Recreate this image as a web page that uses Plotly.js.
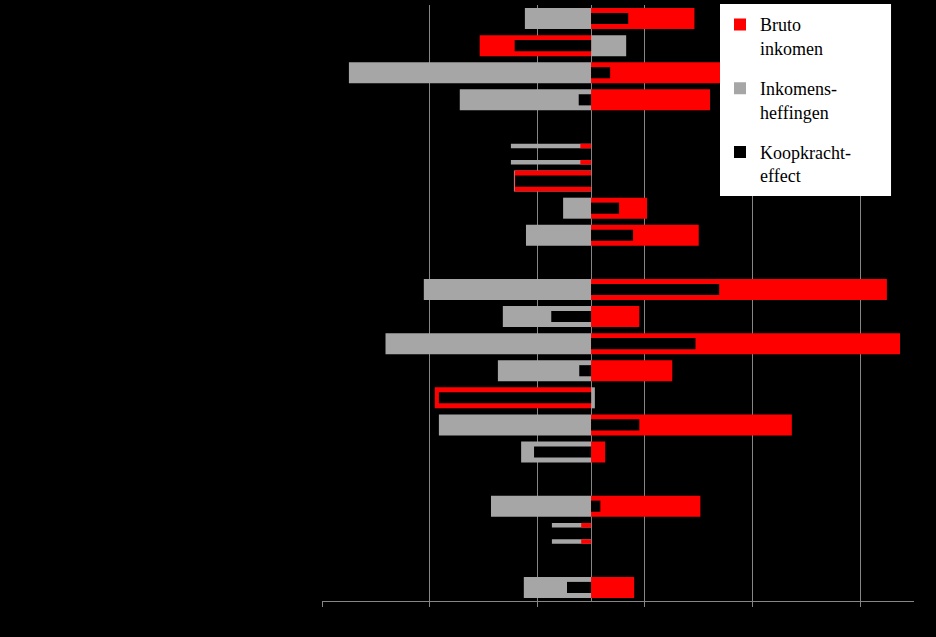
<!DOCTYPE html>
<html>
<head>
<meta charset="utf-8">
<script src="https://cdn.plot.ly/plotly-3.0.1.min.js"></script>
<style>
  html, body { margin: 0; padding: 0; background: #000; }
  #chart { width: 936px; height: 637px; }
</style>
</head>
<body>
<div id="chart"></div>
<script>
// Category slots, top to bottom (labels are not visible in the reference)
const categories = [
  "A1", "A2", "A3", "A4", "gap1", "A-sub",
  "B1", "B2", "B3", "gap2",
  "C1", "C2", "C3", "C4", "C5", "C6", "C7", "gap3",
  "D1", "D-sub", "gap4", "D2"
];

// Series values (main rows)
const brutoInkomen = [0.96, -1.035, 2.43, 1.105, null, null,
  -0.71, 0.52, 1.0, null,
  2.748, 0.448, 2.87, 0.754, -1.452, 1.865, 0.131, null,
  1.015, null, null, 0.40];
const inkomensheffingen = [-0.615, 0.326, -2.25, -1.22, null, null,
  -0.717, -0.26, -0.605, null,
  -1.554, -0.82, -1.91, -0.866, 0.035, -1.414, -0.65, null,
  -0.93, null, null, -0.625];
const koopkrachtEffect = [0.345, -0.71, 0.177, -0.115, null, null,
  -0.705, 0.26, 0.39, null,
  1.19, -0.37, 0.97, -0.11, -1.414, 0.448, -0.53, null,
  0.086, null, null, -0.224];

// Sub rows (pairs of thin bars)
const subCategories = ["A-sub", "D-sub"];
const subBruto = [-0.10, -0.092];
const subHeffingen = [-0.745, -0.364];

// Axis ticks (labels not visible in the reference)
const xTicks = [-2.5, -1.5, -0.5, 0.5, 1.5, 2.5];

const RED = "#FF0000", GRAY = "#A6A6A6", BLACK = "#000000";
const mainW = 0.775, innerW = 0.41, thinW = 0.166;

const traces = [
  { type: "bar", orientation: "h", name: "Inkomens-<br>heffingen",
    y: categories, x: inkomensheffingen, width: mainW,
    marker: { color: GRAY, line: { width: 0 } },
    legendgroup: "g2", legendrank: 2, hoverinfo: "x" },
  { type: "bar", orientation: "h", name: "Bruto<br>inkomen",
    y: categories, x: brutoInkomen, width: mainW,
    marker: { color: RED, line: { width: 0 } },
    legendgroup: "g1", legendrank: 1, hoverinfo: "x" },
  { type: "bar", orientation: "h", name: "Koopkracht-<br>effect",
    y: categories, x: koopkrachtEffect, width: innerW,
    marker: { color: BLACK, line: { width: 0 } },
    legendgroup: "g3", legendrank: 3, hoverinfo: "x" }
];
// thin bar pairs (upper and lower)
[-0.378, 0.223].forEach(function (off) {
  traces.push({ type: "bar", orientation: "h", y: subCategories, x: subHeffingen,
    width: thinW, offset: off, marker: { color: GRAY, line: { width: 0 } },
    showlegend: false, hoverinfo: "x" });
  traces.push({ type: "bar", orientation: "h", y: subCategories, x: subBruto,
    width: thinW, offset: off, marker: { color: RED, line: { width: 0 } },
    showlegend: false, hoverinfo: "x" });
});

const layout = {
  width: 936, height: 637,
  paper_bgcolor: BLACK, plot_bgcolor: BLACK,
  margin: { l: 322, r: 22, t: 5, b: 36 },
  barmode: "overlay",
  showlegend: true,
  xaxis: {
    range: [-2.5, 3.0], tickvals: xTicks, showticklabels: false,
    showgrid: true, gridcolor: "#868686", gridwidth: 1,
    zeroline: true, zerolinecolor: "#868686", zerolinewidth: 1,
    showline: true, linecolor: "#868686", linewidth: 1,
    ticks: "outside", ticklen: 5, tickcolor: "#868686", tickwidth: 1,
    fixedrange: true
  },
  yaxis: {
    type: "category", categoryorder: "array", categoryarray: categories,
    range: [21.5, -0.5], showticklabels: false, showgrid: false,
    zeroline: false, showline: false, ticks: "", fixedrange: true
  },
  legend: {
    x: 0.6723, xanchor: "left", y: 0.998, yanchor: "top",
    bgcolor: "rgba(0,0,0,0)", borderwidth: 0,
    valign: "top", tracegroupgap: 14,
    font: { family: "Liberation Serif, Times New Roman, serif", size: 18, color: "#000000" }
  },
  shapes: [
    { type: "rect", xref: "paper", yref: "paper", layer: "above",
      x0: 0.6723, x1: 0.9612, y0: 0.6795, y1: 1.0017,
      fillcolor: "#FFFFFF", line: { width: 0 } }
  ]
};

Plotly.newPlot("chart", traces, layout, { displayModeBar: false, staticPlot: true });
</script>
</body>
</html>
